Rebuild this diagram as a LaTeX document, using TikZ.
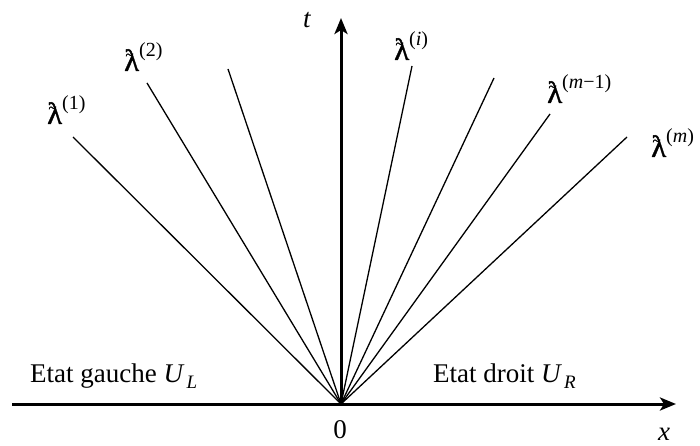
\documentclass[tikz,border=0pt]{standalone}
\usepackage{fontspec}
\setmainfont{Liberation Serif}
\newfontfamily\lamfont[FakeBold=1.2]{Liberation Serif}
\usetikzlibrary{arrows.meta}
\newcommand\tlam{\ooalign{λ\cr\hidewidth\raisebox{0.36em}{\kern-0.14em\fontsize{15}{15}\selectfont\textasciitilde}\hidewidth\cr}}
\newcommand\lamlab[1]{{\lamfont\fontsize{31}{34}\selectfont\tlam}\raisebox{0.55em}{\fontsize{20}{20}\selectfont(#1)}}
\tikzset{
  axis/.style={line width=3pt,-{Stealth[length=16pt,width=13pt,inset=4pt]}},
  ray/.style={line width=1.3pt},
  lab/.style={inner sep=0pt,anchor=base west,font=\fontsize{27}{32}\selectfont}
}
\begin{document}
\begin{tikzpicture}[x=1pt,y=-1pt]
\useasboundingbox (0,0) rectangle (700,446);
\coordinate (O) at (341,404);
\coordinate (xl) at (12,404);
\coordinate (xr) at (676,404);
\coordinate (tt) at (341,18);
\coordinate (r1) at (73,137);
\coordinate (r2) at (147,83);
\coordinate (r3) at (228,69);
\coordinate (r4) at (412,66);
\coordinate (r5) at (494,78);
\coordinate (r6) at (550,114);
\coordinate (r7) at (627,137);
\foreach \r in {r1,r2,r3,r4,r5,r6,r7} \draw[ray] (O) -- (\r);
\draw[axis] (xl) -- (xr);
\draw[axis] (O) -- (tt);
\node[lab] (l1) at (47,124) {\lamlab{1}};
\node[lab] (l2) at (124,71) {\lamlab{2}};
\node[lab] (li) at (394,60) {\lamlab{\textit{i}}};
\node[lab] (lm1) at (547,103) {\lamlab{\textit{m}−1}};
\node[lab] (lm) at (651,157) {\lamlab{\textit{m}}};
\node[lab] (t) at (303,28) {\textit{t}};
\node[lab] (gauche) at (30,382) {Etat gauche \textit{U}\kern2pt\raisebox{-0.25em}{\fontsize{19}{19}\selectfont\textit{L}}};
\node[lab] (droit) at (433,382) {Etat droit \textit{U}\kern2pt\raisebox{-0.25em}{\fontsize{19}{19}\selectfont\textit{R}}};
\node[lab,anchor=base] (zero) at (340,438) {0};
\node[lab,anchor=base] (x) at (664,440) {\textit{x}};
\end{tikzpicture}
\end{document}
